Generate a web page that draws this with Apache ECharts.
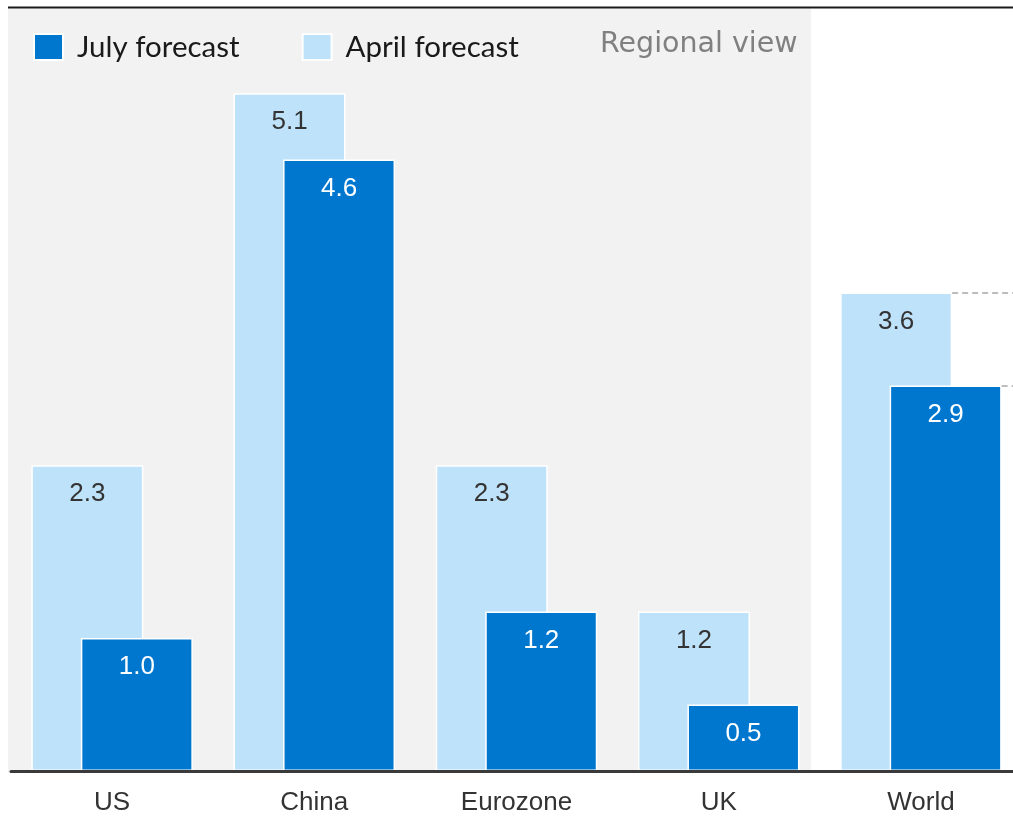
<!DOCTYPE html>
<html>
<head>
<meta charset="utf-8">
<script src="https://cdn.jsdelivr.net/npm/echarts@6/dist/echarts.min.js"></script>
<style>
  html, body { margin: 0; padding: 0; background: #fff; }
  #chart { width: 1013px; height: 816px; }
</style>
</head>
<body>
<div id="chart"></div>
<script>
// Growth forecasts by region, %
const categories = ['US', 'China', 'Eurozone', 'UK', 'World'];
const aprilForecast = [2.3, 5.1, 2.3, 1.2, 3.6];
const julyForecast = [1.0, 4.6, 1.2, 0.5, 2.9];
const seriesNames = ['July forecast', 'April forecast'];
const panelTitle = 'Regional view';

const JULY = '#0077CF';
const APRIL = '#BEE2FA';
const worldIdx = categories.indexOf('World');

const chart = echarts.init(document.getElementById('chart'), null, { renderer: 'canvas' });

const labelBase = {
  show: true,
  position: 'insideTop',
  distance: 16,
  fontSize: 26,
  fontFamily: 'Liberation Sans, Arial, sans-serif',
  formatter: p => p.value.toFixed(1)
};

chart.setOption({
  animation: false,
  backgroundColor: '#fff',
  graphic: [
    { type: 'rect', z: -10, shape: { x: 8, y: 8, width: 803, height: 765 }, style: { fill: '#F2F2F2' } },
    { type: 'line', z: 10, shape: { x1: 8, y1: 7.5, x2: 1013, y2: 7.5 }, style: { stroke: '#1a1a1a', lineWidth: 2 } },
    { type: 'text', z: 10,
      style: { x: 600, y: 45, verticalAlign: 'middle', text: panelTitle, fill: '#808080', fontSize: 28.5, fontFamily: 'DejaVu Sans, sans-serif' } }
  ],
  legend: {
    data: seriesNames,
    left: 33,
    top: 32,
    padding: 0,
    itemWidth: 29,
    itemHeight: 26,
    itemGap: 62,
    icon: 'rect',
    textStyle: { fontSize: 29.5, color: '#1a1a1a', fontFamily: 'Lato, Noto Sans, sans-serif', padding: [0, 0, 0, 9] }
  },
  grid: { left: 11, width: 1011, top: 40, bottom: 45, containLabel: false, outerBoundsMode: 'none' },
  xAxis: {
    type: 'category',
    data: categories,
    z: 20,
    axisTick: { show: false },
    axisLine: { lineStyle: { color: '#3a3a3a', width: 3 } },
    axisLabel: { margin: 19, fontSize: 26, color: '#333', fontFamily: 'Liberation Sans, Arial, sans-serif' }
  },
  yAxis: {
    type: 'value',
    min: 0,
    max: 5.5,
    show: false,
    splitLine: { show: false }
  },
  series: [
    {
      name: 'April forecast',
      type: 'bar',
      data: aprilForecast,
      barWidth: 112,
      barGap: '-55.8%',
      itemStyle: { color: APRIL, borderColor: '#fff', borderWidth: 1.5 },
      label: Object.assign({}, labelBase, { color: '#333' })
    },
    {
      name: 'July forecast',
      type: 'bar',
      data: julyForecast,
      barWidth: 112,
      barGap: '-55.8%',
      itemStyle: { color: JULY, borderColor: '#fff', borderWidth: 1.5 },
      label: Object.assign({}, labelBase, { color: '#fff' })
    }
  ]
});

// Dashed guides from the right edge of each World bar top to the chart's right edge
function barRightEdge(seriesIndex) {
  const layout = chart.getModel().getSeriesByIndex(seriesIndex).getData().getItemLayout(worldIdx);
  return layout.x + layout.width;
}
function guide(value, startX) {
  return {
    silent: true,
    symbol: 'none',
    label: { show: false },
    lineStyle: { type: [6, 4], color: '#A6A6A6', width: 1.5 },
    data: [[
      { coord: [categories[worldIdx], value], x: startX },
      { coord: [categories[worldIdx], value], x: '100%' }
    ]]
  };
}
chart.setOption({
  series: [
    { markLine: guide(aprilForecast[worldIdx], barRightEdge(0)) },
    { markLine: guide(julyForecast[worldIdx], barRightEdge(1)) }
  ]
});
</script>
</body>
</html>
